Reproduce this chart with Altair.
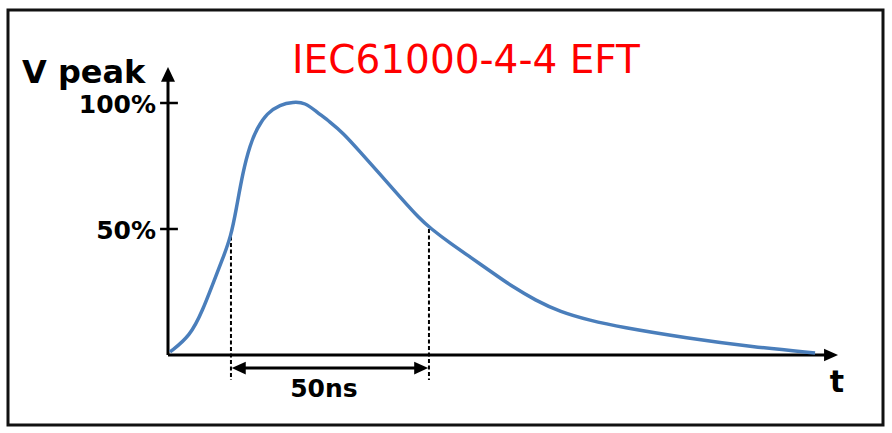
import altair as alt
import pandas as pd

# ---- data ----
t_ns = [0.5, 5.6, 8.8, 11.4, 13.9, 15.9, 17.2, 18.9, 20.7, 22.5, 25.0, 28.3, 31.6,
        34.6, 37.6, 40.9, 44.2, 48.5, 53.5, 58.6, 63.6, 66.2, 71.2, 76.3, 82.1,
        87.1, 92.7, 99.0, 106.6, 114.1, 131.0, 147.7, 163.4]
v_pct = [1.2, 7.5, 17.9, 28.6, 38.5, 47.2, 57.5, 72.6, 83.3, 90.1, 96.0, 99.4, 100.4,
         100.2, 96.4, 92.5, 88.1, 80.6, 71.8, 62.7, 54.0, 50.4, 44.4, 38.9, 32.5,
         27.0, 21.8, 17.1, 13.7, 11.1, 6.7, 3.2, 0.8]
tick_values = [50, 100]
tick_labels = ["50%", "100%"]
pulse_start = 15.9
pulse_end = 65.9
pulse_label = "50ns"
title_text = "IEC61000-4-4 EFT"
y_title = "V peak"
x_title = "t"
x_axis_len = 169.2   # ns, tip of the time-axis arrow
y_axis_len = 114.3   # %, tip of the voltage-axis arrow

# ---- layout ----
W, H = 892, 433
X0, Y0 = 168, 355
PX_NS, PX_PCT = 3.96, 2.52
xs = alt.Scale(domain=[-X0 / PX_NS, (W - X0) / PX_NS], nice=False, zero=False)
ys = alt.Scale(domain=[-(H - Y0) / PX_PCT, Y0 / PX_PCT], nice=False, zero=False)

BLUE = "#4A7EBB"
AXIS = "#000000"
BOLD = "DejaVu Sans"
SPAN_V = -5.2
DASH_BOT = -9.9

one = pd.DataFrame({"a": [0]})
curve_df = pd.DataFrame({"t": t_ns, "v": v_pct})


def X(field):
    return alt.X(field, type="quantitative", scale=xs, axis=None)


def Y(field):
    return alt.Y(field, type="quantitative", scale=ys, axis=None)


frame = alt.Chart(one).mark_rect(fillOpacity=0, stroke="#111111", strokeWidth=3).encode(
    x=alt.value(8), x2=alt.value(883), y=alt.value(10), y2=alt.value(425))

axes_df = pd.DataFrame({
    "x1": [0.0, 0.0], "x2": [x_axis_len - 3, 0.0],
    "y1": [0.0, 0.0], "y2": [0.0, y_axis_len - 4],
})
axes = alt.Chart(axes_df).mark_rule(color=AXIS, strokeWidth=3).encode(
    x=X("x1"), x2="x2", y=Y("y1"), y2="y2")

arrow_right = "M0,0L-2,-0.9L-2,0.9Z"
arrow_left = "M0,0L2,-0.9L2,0.9Z"
arrow_up = "M0,0L-1,2.1L1,2.1Z"


def head(t, v, shape):
    return alt.Chart(pd.DataFrame({"t": [t], "v": [v]})).mark_point(
        shape=shape, filled=True, color=AXIS, opacity=1, size=196, strokeWidth=0).encode(
        x=X("t"), y=Y("v"))


xhead = head(x_axis_len, 0.0, arrow_right)
yhead = head(0.0, y_axis_len, arrow_up)

ticks_df = pd.DataFrame({"v": tick_values, "label": tick_labels,
                         "a": [-2.0, -2.0], "b": [2.5, 2.5], "z": [0.0, 0.0]})
ticks = alt.Chart(ticks_df).mark_rule(color=AXIS, strokeWidth=2.5).encode(
    x=X("a"), x2="b", y=Y("v"))
tick_text = alt.Chart(ticks_df).mark_text(
    align="right", baseline="alphabetic", dy=10, dx=-12, font=BOLD, fontWeight="bold",
    fontSize=25, color=AXIS).encode(x=X("z"), y=Y("v"), text="label:N")

curve = alt.Chart(curve_df).mark_line(
    color=BLUE, strokeWidth=3.5, interpolate="basis").encode(
    x=X("t"), y=Y("v"))

dash_df = pd.DataFrame({"t": [pulse_start, pulse_end],
                        "top": [47.0, 50.0], "bot": [DASH_BOT, DASH_BOT]})
dashes = alt.Chart(dash_df).mark_rule(
    color=AXIS, strokeWidth=2, strokeDash=[4, 2.5]).encode(
    x=X("t"), y=Y("top"), y2="bot")

span_df = pd.DataFrame({"t1": [pulse_start + 2], "t2": [pulse_end - 2], "v": [SPAN_V]})
span = alt.Chart(span_df).mark_rule(color=AXIS, strokeWidth=3).encode(
    x=X("t1"), x2="t2", y=Y("v"))
heads_l = head(pulse_start + 0.2, SPAN_V, arrow_left)
heads_r = head(pulse_end - 0.2, SPAN_V, arrow_right)
span_text = alt.Chart(pd.DataFrame({"t": [(pulse_start + pulse_end) / 2], "v": [-16.7],
                                    "s": [pulse_label]})).mark_text(
    align="center", baseline="alphabetic", font=BOLD, fontWeight="bold", fontSize=25,
    color=AXIS, dx=-6).encode(x=X("t"), y=Y("v"), text="s:N")

title = alt.Chart(one).mark_text(
    text=title_text, align="center", baseline="alphabetic", font="DejaVu Sans",
    fontSize=39, color="#FF0000").encode(x=alt.value(466), y=alt.value(73))
ytitle = alt.Chart(one).mark_text(
    text=y_title, align="left", baseline="alphabetic", font=BOLD, fontWeight="bold",
    fontSize=32, color=AXIS).encode(x=alt.value(22), y=alt.value(83))
xtitle = alt.Chart(one).mark_text(
    text=x_title, align="center", baseline="alphabetic", font=BOLD, fontWeight="bold",
    fontSize=30, color=AXIS).encode(x=alt.value(837), y=alt.value(392))

chart = alt.layer(
    frame, dashes, axes, ticks, curve, xhead, yhead, span, heads_l, heads_r,
    tick_text, span_text, title, ytitle, xtitle
).properties(
    width=W, height=H, padding=0, background="white",
    autosize=alt.AutoSizeParams(type="none")
).configure_view(stroke=None)

chart.save("out.html", embed_options={"renderer": "svg", "actions": False})
